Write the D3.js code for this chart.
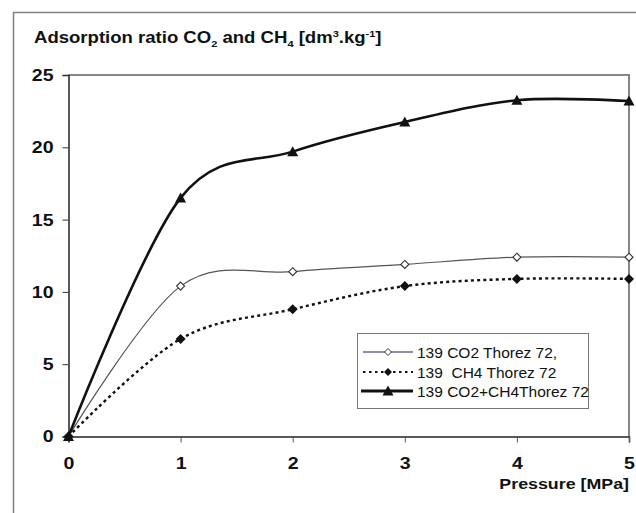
<!DOCTYPE html>
<html>
<head>
<meta charset="utf-8">
<script src="https://cdn.jsdelivr.net/npm/d3@7/dist/d3.min.js"></script>
<style>
  html, body { margin: 0; padding: 0; background: #fff; }
  svg { display: block; font-family: Arial, "Liberation Sans", sans-serif; }
</style>
</head>
<body>
<svg id="chart" width="636" height="513"></svg>
<script>
// Pressure steps [MPa]
const pressure = [0, 1, 2, 3, 4, 5];
// Adsorbed volume [dm3/kg]
const co2 = [0, 10.4, 11.4, 11.9, 12.4, 12.4];
const ch4 = [0, 6.75, 8.8, 10.4, 10.9, 10.9];
const mix = [0, 16.5, 19.7, 21.75, 23.25, 23.2];
const xTicks = [0, 1, 2, 3, 4, 5];
const yTicks = [0, 5, 10, 15, 20, 25];
const seriesNames = ["139 CO2 Thorez 72,", "139  CH4 Thorez 72", "139 CO2+CH4Thorez 72"];

const svg = d3.select("#chart");

// widen a text element horizontally around its anchor point
const stretch = (sel, k, ax) => sel.attr("transform", function () {
  const a = ax !== undefined ? ax : +this.getAttribute("x") || 0;
  return `translate(${a},0) scale(${k},1) translate(${-a},0)`;
});

// outer frame (runs past the right and bottom edges)
svg.append("rect")
  .attr("x", 13.5).attr("y", 12.5).attr("width", 700).attr("height", 600)
  .attr("fill", "none").attr("stroke", "#808080").attr("stroke-width", 1.5);

const x = d3.scaleLinear().domain([0, 5]).range([68.5, 629]);
const y = d3.scaleLinear().domain([0, 25]).range([436.5, 75]);

// plot area border: top and right in grey
svg.append("path")
  .attr("d", `M${x(0)},${y(25)}H${x(5)}V${y(0)}`)
  .attr("fill", "none").attr("stroke", "#868686").attr("stroke-width", 2);

// title with sub/superscripts
const title = svg.append("text")
  .attr("x", 34).attr("y", 43)
  .attr("font-size", 16).attr("font-weight", "bold").attr("fill", "#111");
title.append("tspan").text("Adsorption ratio CO");
title.append("tspan").attr("font-size", 9.5).attr("dy", 4).text("2");
title.append("tspan").attr("dy", -4).text(" and CH");
title.append("tspan").attr("font-size", 9.5).attr("dy", 4).text("4");
title.append("tspan").attr("dy", -4).text(" [dm");
title.append("tspan").attr("font-size", 9.5).attr("dy", -5.5).text("3");
title.append("tspan").attr("dy", 5.5).text(".kg");
title.append("tspan").attr("font-size", 9.5).attr("dy", -5.5).text("-1");
title.append("tspan").attr("dy", 5.5).text("]");
stretch(title, 1.16, 34);

// axes
const yAxis = svg.append("g")
  .attr("transform", `translate(${x(0)},0)`)
  .call(d3.axisLeft(y).tickValues(yTicks).tickSize(6).tickPadding(9).tickFormat(d3.format("d")));
const xAxis = svg.append("g")
  .attr("transform", `translate(0,${y(0)})`)
  .call(d3.axisBottom(x).tickValues(xTicks).tickSize(6).tickPadding(14).tickFormat(d3.format("d")));

[yAxis, xAxis].forEach(g => {
  g.select(".domain").attr("stroke", "#222").attr("stroke-width", 1.5);
  g.selectAll(".tick line").attr("stroke", "#333").attr("stroke-width", 1);
  g.selectAll(".tick text")
    .attr("font-size", 17).attr("font-weight", "bold").attr("fill", "#111")
    .attr("font-family", "Arial, 'Liberation Sans', sans-serif");
});
xAxis.selectAll(".tick line").attr("stroke", "#555");
stretch(yAxis.selectAll(".tick text"), 1.15);
stretch(xAxis.selectAll(".tick text"), 1.15, 0);

const xTitle = svg.append("text")
  .attr("x", 629).attr("y", 489).attr("text-anchor", "end")
  .attr("font-size", 15.5).attr("font-weight", "bold").attr("fill", "#111")
  .text("Pressure [MPa]");
stretch(xTitle, 1.15, 629);

const curve = d3.curveCardinal.tension(0);
const line = vals => d3.line()
  .x((d, i) => x(pressure[i]))
  .y(d => y(d))
  .curve(curve)(vals);

// CO2 series
svg.append("path").attr("d", line(co2))
  .attr("fill", "none").attr("stroke", "#555").attr("stroke-width", 1.2);
// CH4 series
svg.append("path").attr("d", line(ch4))
  .attr("fill", "none").attr("stroke", "#111").attr("stroke-width", 2.4)
  .attr("stroke-dasharray", "3,3.2");
// CO2 + CH4 series
svg.append("path").attr("d", line(mix))
  .attr("fill", "none").attr("stroke", "#111").attr("stroke-width", 2.6);

const diamond = (cx, cy, r) => `M${cx},${cy - r}L${cx + r},${cy}L${cx},${cy + r}L${cx - r},${cy}Z`;
const triangle = (cx, cy, s) => `M${cx},${cy - s * 0.55}L${cx + s * 0.55},${cy + s * 0.45}L${cx - s * 0.55},${cy + s * 0.45}Z`;

svg.append("g").selectAll("path").data(co2).join("path")
  .attr("d", (d, i) => diamond(x(pressure[i]), y(d), 4))
  .attr("fill", "#fff").attr("stroke", "#333").attr("stroke-width", 1.1);
svg.append("g").selectAll("path").data(ch4).join("path")
  .attr("d", (d, i) => diamond(x(pressure[i]), y(d), 5))
  .attr("fill", "#111");
svg.append("g").selectAll("path").data(mix).join("path")
  .attr("d", (d, i) => triangle(x(pressure[i]), y(d), 10))
  .attr("fill", "#111");

// legend
const lg = svg.append("g");
lg.append("rect")
  .attr("x", 357.5).attr("y", 333.5).attr("width", 231).attr("height", 75)
  .attr("fill", "#fff").attr("stroke", "#777").attr("stroke-width", 1);
const rowsY = [352, 372, 391];
const lx0 = 363, lx1 = 413, lmid = 388;
lg.append("line").attr("x1", lx0).attr("x2", lx1).attr("y1", rowsY[0]).attr("y2", rowsY[0])
  .attr("stroke", "#1a1a66").attr("stroke-width", 1);
lg.append("path").attr("d", diamond(lmid, rowsY[0], 3.5))
  .attr("fill", "#fff").attr("stroke", "#333").attr("stroke-width", 1);
lg.append("line").attr("x1", lx0).attr("x2", lx1).attr("y1", rowsY[1]).attr("y2", rowsY[1])
  .attr("stroke", "#111").attr("stroke-width", 2).attr("stroke-dasharray", "2.5,3.5");
lg.append("path").attr("d", diamond(lmid, rowsY[1], 4)).attr("fill", "#111");
lg.append("line").attr("x1", lx0 - 2).attr("x2", lx1).attr("y1", rowsY[2]).attr("y2", rowsY[2])
  .attr("stroke", "#111").attr("stroke-width", 3);
lg.append("path").attr("d", triangle(lmid, rowsY[2], 10)).attr("fill", "#111");
lg.selectAll("text.lbl").data(seriesNames).join("text")
  .attr("class", "lbl")
  .attr("x", 417).attr("y", (d, i) => rowsY[i] + 5.5)
  .attr("font-size", 15.5).attr("fill", "#111")
  .attr("xml:space", "preserve").style("white-space", "pre")
  .text(d => d);
</script>
</body>
</html>
